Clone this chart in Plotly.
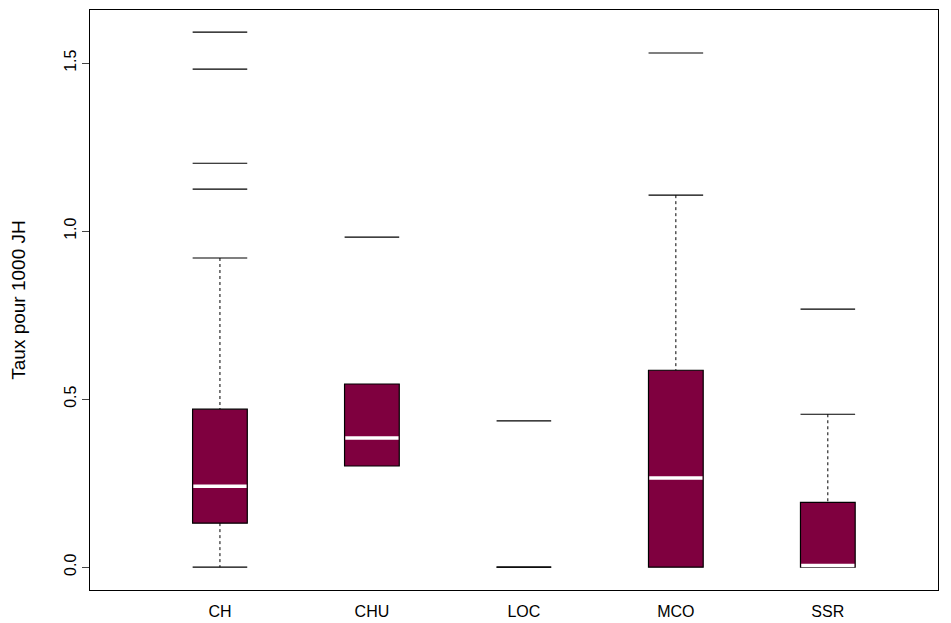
import plotly.graph_objects as go

categories = ["CH", "CHU", "LOC", "MCO", "SSR"]
q1 = [0.131, 0.301, 0.0, 0.0, 0.0]
median = [0.241, 0.384, 0.0, 0.265, 0.005]
q3 = [0.470, 0.545, 0.0, 0.586, 0.193]
lower = [0.0, 0.301, 0.0, 0.0, 0.0]
upper = [0.920, 0.545, 0.0, 1.107, 0.455]
outliers = {
    "CH": [1.592, 1.482, 1.202, 1.125],
    "CHU": [0.982],
    "LOC": [0.435],
    "MCO": [1.530],
    "SSR": [0.768],
}

fill = "#7f003f"
xs = list(range(1, len(categories) + 1))
fig = go.Figure()

# whiskers (dotted)
for i, x in enumerate(xs):
    for a, b in [(upper[i], q3[i]), (q1[i], lower[i])]:
        if a != b:
            fig.add_trace(go.Scatter(x=[x, x], y=[a, b], mode="lines",
                                     line=dict(color="black", width=1, dash="dot"),
                                     hoverinfo="skip"))

# boxes
fig.add_trace(go.Bar(x=xs, y=[t - b for t, b in zip(q3, q1)], base=q1, width=0.36,
                     marker=dict(color=fill, line=dict(color="black", width=1.2))))

# staples
staple_x, staple_y = [], []
for i, x in enumerate(xs):
    if upper[i] != q3[i]:
        staple_x.append(x); staple_y.append(upper[i])
    if lower[i] != q1[i] or q1[i] == q3[i]:
        staple_x.append(x); staple_y.append(lower[i])
fig.add_trace(go.Scatter(x=staple_x, y=staple_y, mode="markers",
                         marker=dict(symbol="line-ew", size=39, line=dict(color="black", width=1.2))))

# medians
fig.add_trace(go.Scatter(x=[x for i, x in enumerate(xs) if q3[i] != q1[i]],
                         y=[m for i, m in enumerate(median) if q3[i] != q1[i]], mode="markers",
                         marker=dict(symbol="line-ew", size=38, line=dict(color="white", width=3.5))))

# outliers
ox, oy = [], []
for i, c in enumerate(categories):
    for v in outliers[c]:
        ox.append(xs[i]); oy.append(v)
fig.add_trace(go.Scatter(x=ox, y=oy, mode="markers",
                         marker=dict(symbol="line-ew", size=39, line=dict(color="black", width=1.2))))

fig.update_layout(
    width=943, height=615, showlegend=False,
    plot_bgcolor="white", paper_bgcolor="white",
    margin=dict(l=82, r=13, t=2, b=33),
    font=dict(family="Liberation Sans", size=16, color="black"),
    xaxis=dict(range=[0.145, 5.725], tickvals=xs, ticktext=categories,
               ticks="outside", ticklen=7, tickcolor="rgba(0,0,0,0)",
               showgrid=False, zeroline=False, showline=True, mirror=True,
               linecolor="black", linewidth=1),
    yaxis=dict(range=[-0.068, 1.658], tickvals=[0, 0.5, 1.0, 1.5],
               ticktext=["0.0", "0.5", "1.0", "1.5"], tickangle=-90,
               ticks="outside", ticklen=7, showgrid=False, zeroline=False,
               showline=True, mirror=True, linecolor="black", linewidth=1,
               title=dict(text="Taux pour 1000 JH", standoff=30)),
)
fig.write_html("out.html")
